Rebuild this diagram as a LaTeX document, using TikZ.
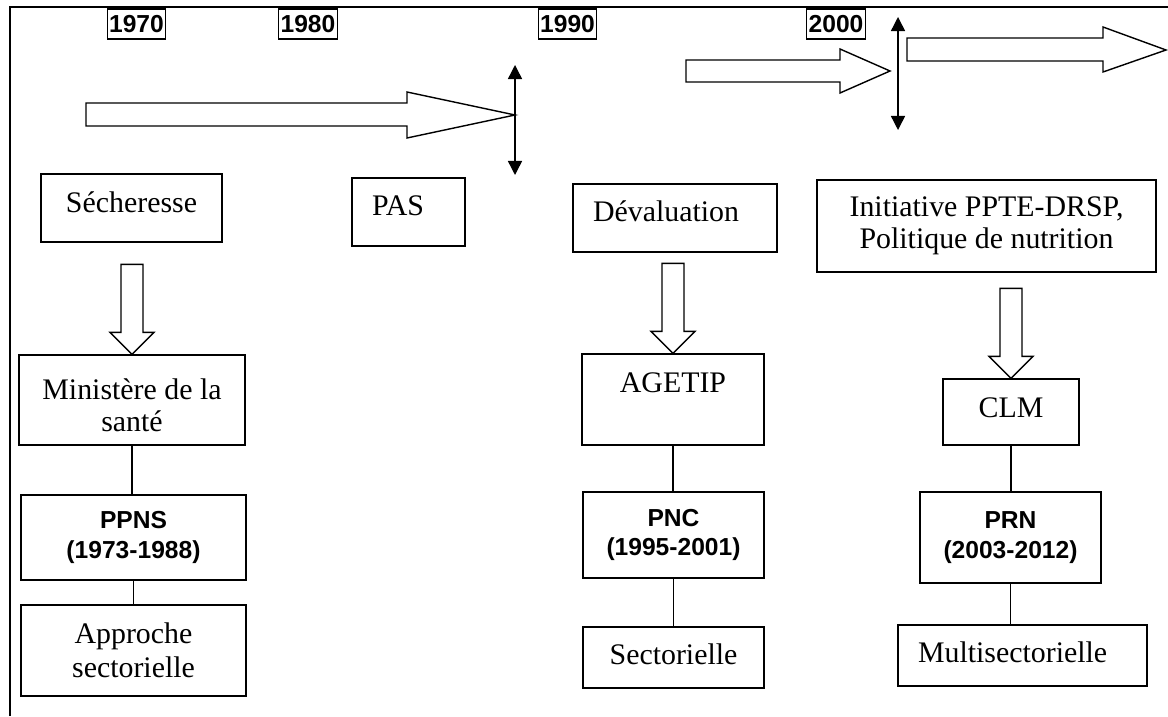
\documentclass[tikz,border=0pt]{standalone}
\usepackage{fontspec}
\setmainfont{Liberation Serif}
\setsansfont{Liberation Sans}
\usetikzlibrary{arrows.meta}

\begin{document}
\begin{tikzpicture}[x=0.02cm, y=-0.02cm, >={Triangle[length=8pt,width=8pt]},
        box/.style={draw, rectangle, line width=0.7pt, align=center, font=\fontsize{17}{18.5}\selectfont},
        prog/.style={draw, rectangle, line width=0.7pt, align=center, font=\fontsize{14}{17}\selectfont\sffamily\bfseries},
        year/.style={draw, rectangle, line width=0.6pt, inner sep=1pt, minimum width=1.14cm, minimum height=0.6cm, font=\fontsize{14}{15}\selectfont\sffamily\bfseries},
        blk/.style={draw, line width=0.8pt, fill=white},
        lift/.style={text height=12pt, text depth=#1}]
    \useasboundingbox (0,0) rectangle (1168,716);

    % Frame
    \draw[line width=1.2pt] (10,716) -- (10,7) -- (1168,7);

    % Years
    \node[year] (y1970) at (136.5,24) {1970};
    \node[year] (y1980) at (308,24) {1980};
    \node[year] (y1990) at (567.5,24) {1990};
    \node[year] (y2000) at (836,24) {2000};

    % Timeline
    \draw[blk] (86,103) -- (407,103) -- (407,92) -- (515,115) -- (407,138) -- (407,126) -- (86,126) -- cycle;
    \draw[blk] (686,60) -- (840,60) -- (840,49) -- (890,71) -- (840,93) -- (840,82) -- (686,82) -- cycle;
    \draw[blk] (907,38) -- (1103,38) -- (1103,27) -- (1166,50) -- (1103,72) -- (1103,61) -- (907,61) -- cycle;

    \coordinate (cut1top) at (515,65);
    \coordinate (cut1bot) at (515,175);
    \coordinate (cut2top) at (898,17);
    \coordinate (cut2bot) at (898,130);
    \draw[<->, line width=0.8pt] (cut1top) -- (cut1bot);
    \draw[<->, line width=0.8pt] (cut2top) -- (cut2bot);

    % Context
    \node[box, lift=6.7pt, minimum width=3.62cm, minimum height=1.36cm] (sech) at (131.5,208) {Sécheresse};
    \node[box, lift=7.8pt, align=left, text width=1.46cm, inner xsep=0.4cm, minimum height=1.36cm] (pas) at (408.5,212) {PAS};
    \node[box, lift=7.8pt, align=left, text width=3.28cm, inner xsep=0.4cm, minimum height=1.36cm] (deval) at (675,218) {Dévaluation};
    \node[box, minimum width=6.78cm, minimum height=1.84cm] (ppte) at (986.5,226) {Initiative PPTE-DRSP,\\Politique de nutrition};

    % Institutions
    \node[box, text height=36pt, text depth=0pt, minimum width=4.52cm, minimum height=1.8cm] (minis) at (132,400) {Ministère de la\\santé};
    \node[box, lift=19.7pt, minimum width=3.64cm, minimum height=1.82cm] (agetip) at (673,399.5) {AGETIP};
    \node[box, lift=5.2pt, minimum width=2.72cm, minimum height=1.32cm] (clm) at (1011,412) {CLM};

    % Programmes
    \node[prog, minimum width=4.5cm, minimum height=1.7cm] (ppns) at (133.5,537.5) {PPNS\\(1973-1988)};
    \node[prog, minimum width=3.62cm, minimum height=1.72cm] (pnc) at (673.5,535) {PNC\\(1995-2001)};
    \node[prog, minimum width=3.62cm, minimum height=1.82cm] (prn) at (1010.5,537.5) {PRN\\(2003-2012)};

    % Approaches
    \node[box, minimum width=4.5cm, minimum height=1.82cm, font=\fontsize{17}{19.5}\selectfont] (appr) at (133.5,650.5) {Approche\\sectorielle};
    \node[box, lift=3.5pt, minimum width=3.62cm, minimum height=1.22cm] (sect) at (673.5,657.5) {Sectorielle};
    \node[box, lift=3.8pt, align=left, text width=4.18cm, inner xsep=0.4cm, minimum height=1.22cm] (multi) at (1022.5,655.5) {Multisectorielle};

    % Block arrows
    \draw[blk] (minis.north) -- ++(-22,-22) -- ++(11,0) -- ++(0,-68) -- ++(22,0) -- ++(0,68) -- ++(11,0) -- cycle;
    \draw[blk] (agetip.north) -- ++(-22,-22) -- ++(11,0) -- ++(0,-68) -- ++(22,0) -- ++(0,68) -- ++(11,0) -- cycle;
    \draw[blk] (clm.north) -- ++(-22,-22) -- ++(11,0) -- ++(0,-68) -- ++(22,0) -- ++(0,68) -- ++(11,0) -- cycle;

    % Links
    \draw[line width=0.7pt] (minis.south) -- (minis.south |- ppns.north);
    \draw[line width=0.7pt] (ppns.south) -- (ppns.south |- appr.north);
    \draw[line width=0.7pt] (agetip.south) -- (agetip.south |- pnc.north);
    \draw[line width=0.7pt] (pnc.south) -- (pnc.south |- sect.north);
    \draw[line width=0.7pt] (clm.south) -- (clm.south |- prn.north);
    \draw[line width=0.7pt] (prn.south) -- (prn.south |- multi.north);
\end{tikzpicture}
\end{document}
